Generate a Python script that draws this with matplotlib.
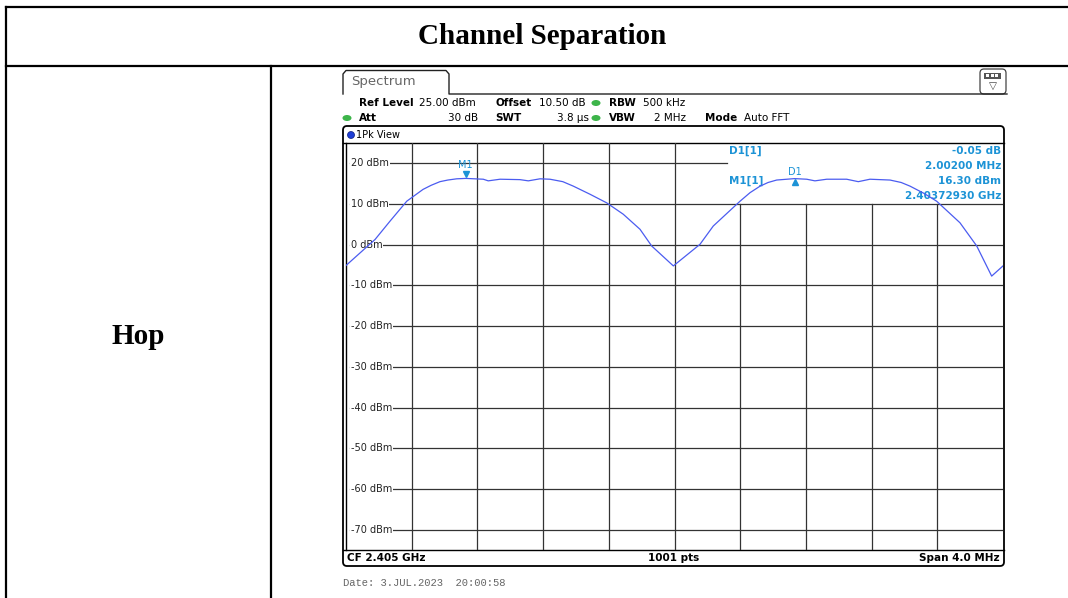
import numpy as np
import matplotlib
matplotlib.use("Agg")
import matplotlib.pyplot as plt
from matplotlib.patches import FancyBboxPatch, Ellipse, Rectangle
from matplotlib.transforms import blended_transform_factory, offset_copy

# spectrum trace (GHz, dBm)
freq_ghz = [2.403000, 2.403177, 2.403268, 2.403370, 2.403469, 2.403518, 2.403572,
            2.403620, 2.403674, 2.403729, 2.403836, 2.403866, 2.403938, 2.404059,
            2.404110, 2.404181, 2.404242, 2.404320, 2.404384, 2.404486, 2.404587,
            2.404688, 2.404790, 2.404861, 2.404993, 2.405155, 2.405236, 2.405399,
            2.405460, 2.405521, 2.405570, 2.405622, 2.405731, 2.405805, 2.405855,
            2.405927, 2.406048, 2.406119, 2.406190, 2.406312, 2.406380, 2.406434,
            2.406520, 2.406596, 2.406738, 2.406840, 2.406931, 2.407000]
level_dbm = [-5.1, 1.3, 5.8, 10.7, 13.6, 14.6, 15.5,
             15.9, 16.2, 16.3, 16.1, 15.7, 16.1, 16.0,
             15.7, 16.2, 16.1, 15.5, 14.4, 12.4, 10.3,
             7.5, 3.8, -0.3, -5.2, 0.1, 4.6, 10.7,
             12.8, 14.4, 15.3, 15.9, 16.25, 16.1, 15.7,
             16.1, 16.1, 15.5, 16.1, 15.9, 15.3, 14.4,
             12.6, 10.7, 5.4, -0.3, -7.7, -5.2]

y_levels = [20, 10, 0, -10, -20, -30, -40, -50, -60, -70]
y_labels = ["20 dBm", "10 dBm", "0 dBm", "-10 dBm", "-20 dBm", "-30 dBm",
            "-40 dBm", "-50 dBm", "-60 dBm", "-70 dBm"]

m1_freq, m1_level = 2.40372930, 16.30
d1_freq, d1_level = 2.40573130, 16.25
marker_names = ["D1[1]", "", "M1[1]", ""]
marker_values = ["-0.05 dB", "2.00200 MHz", "16.30 dBm", "2.40372930 GHz"]

header_row1 = [("Ref Level", True, 359), ("25.00 dBm", False, 419), ("Offset", True, 495),
               ("10.50 dB", False, 539), ("RBW", True, 609), ("500 kHz", False, 643)]
header_row2 = [("Att", True, 359), ("SWT", True, 495), ("VBW", True, 609),
               ("Mode", True, 705), ("Auto FFT", False, 744)]

TRACE = "#4b5cf0"
MARK = "#1c93d6"
GREEN = "#3db54a"
SANS = "DejaVu Sans"
SERIF = "Liberation Serif"

fig = plt.figure(figsize=(10.68, 5.98), dpi=100)

# overlay in pixel coordinates for the table and instrument decorations
bg = fig.add_axes([0, 0, 1, 1], zorder=0)
bg.set_xlim(0, 1068)
bg.set_ylim(598, 0)
bg.axis("off")

# table
lw_tab = 1.6
bg.plot([6, 1068], [6.5, 6.5], color="black", lw=lw_tab)
bg.plot([6, 1068], [66, 66], color="black", lw=lw_tab)
bg.plot([6, 6], [6.5, 598], color="black", lw=lw_tab)
bg.plot([271, 271], [66, 598], color="black", lw=lw_tab)
bg.text(542, 37, "Channel Separation", family=SERIF, weight="bold", fontsize=21,
        ha="center", va="center")
bg.text(138, 337, "Hop", family=SERIF, weight="bold", fontsize=21,
        ha="center", va="center")

# spectrum tab
bg.plot([343, 343, 346, 446, 449, 449, 1007], [94, 74, 70.5, 70.5, 74, 94, 94],
        color="#222222", lw=1.0)
bg.text(351, 82, "Spectrum", family=SANS, fontsize=9.5, color="#666666", va="center")
bg.add_patch(FancyBboxPatch((980, 69), 26, 25, boxstyle="round,pad=0,rounding_size=4",
                            fc="white", ec="#444444", lw=0.9))
bg.add_patch(Rectangle((984, 72.5), 17, 6, fc="#555555", ec="none"))
for xx in [986, 990.5, 995]:
    bg.add_patch(Rectangle((xx, 74), 3, 3, fc="white", ec="none"))
bg.text(993, 86, "\u25bd", family=SANS, fontsize=7.5, color="#444444", ha="center", va="center")

# settings header
for txt, bold, x in header_row1:
    bg.text(x, 103, txt, family=SANS, fontsize=7.5, weight="bold" if bold else "normal",
            va="center")
for txt, bold, x in header_row2:
    bg.text(x, 118, txt, family=SANS, fontsize=7.5, weight="bold" if bold else "normal",
            va="center")
bg.text(478, 118, "30 dB", family=SANS, fontsize=7.5, ha="right", va="center")
bg.text(589, 118, "3.8 \u00b5s", family=SANS, fontsize=7.5, ha="right", va="center")
bg.text(686, 118, "2 MHz", family=SANS, fontsize=7.5, ha="right", va="center")
for x, y in [(596, 103), (347, 118), (596, 118)]:
    bg.add_patch(Ellipse((x, y), 9, 6, fc=GREEN, ec="none"))

# diagram frame
bg.add_patch(FancyBboxPatch((343, 126), 661, 440, boxstyle="round,pad=0,rounding_size=4",
                            fc="none", ec="black", lw=1.3))
bg.plot([343, 1004], [143, 143], color="black", lw=1.0)
bg.plot([343, 1004], [550, 550], color="black", lw=1.0)
bg.add_patch(Ellipse((351, 135), 7, 7, fc="#1f3fd6", ec="#102080", lw=0.5))
bg.text(356, 135, "1Pk View", family=SANS, fontsize=7, va="center")
bg.text(347, 558, "CF 2.405 GHz", family=SANS, fontsize=7.5, weight="bold", va="center")
bg.text(674, 558, "1001 pts", family=SANS, fontsize=7.5, weight="bold", va="center",
        ha="center")
bg.text(1000, 558, "Span 4.0 MHz", family=SANS, fontsize=7.5, weight="bold", va="center",
        ha="right")
bg.text(343, 583, "Date: 3.JUL.2023  20:00:58", family="Liberation Mono", fontsize=7.6,
        color="#666666", va="center")

# marker info block
for i, name in enumerate(marker_names):
    y = 151 + 15 * i
    if name:
        bg.text(729, y, name, family=SANS, fontsize=7.5, weight="bold", color=MARK,
                va="center", zorder=5)
    bg.text(1001, y, marker_values[i], family=SANS, fontsize=7.5, weight="bold", color=MARK,
            va="center", ha="right", zorder=5)

# trace area
ax = fig.add_axes([346 / 1068, 48 / 598, 657 / 1068, 407 / 598], zorder=1)
ax.set_facecolor("none")
f0, f1 = 2.403, 2.407
ax.set_xlim(f0, f1)
ax.set_ylim(-75, 25)
ax.set_xticks([])
ax.set_yticks([])
for side in ["top", "right", "bottom"]:
    ax.spines[side].set_visible(False)
ax.spines["left"].set_linewidth(1.0)

grid_c = "#333333"
for i in range(1, 10):
    x = f0 + i * (f1 - f0) / 10
    ax.axvline(x, ymin=0, ymax=0.85 if i >= 6 else 1, color=grid_c, lw=0.9, zorder=1)
for lvl in y_levels:
    ax.axhline(lvl, xmin=0.006, xmax=0.58 if lvl == 20 else 1, color=grid_c, lw=0.9, zorder=1)

tr = blended_transform_factory(ax.transAxes, ax.transData)
for lvl, lab in zip(y_levels, y_labels):
    ax.text(0.0075, lvl, lab, transform=tr, family=SANS, fontsize=7, color="#222222",
            va="center", ha="left", zorder=2,
            bbox=dict(boxstyle="square,pad=0.08", fc="white", ec="none"))

ax.plot(freq_ghz, level_dbm, color=TRACE, lw=0.9, zorder=3)

# markers
down = offset_copy(ax.transData, fig=fig, y=3.5, units="points")
ax.plot([m1_freq], [m1_level], marker="v", ms=5, color=MARK, transform=down, zorder=4)
ax.annotate("M1", (m1_freq, m1_level), xytext=(0, 10), textcoords="offset points",
            ha="center", va="center", family=SANS, fontsize=7, color=MARK, zorder=4)
up = offset_copy(ax.transData, fig=fig, y=-2.5, units="points")
ax.plot([d1_freq], [d1_level], marker="^", ms=5, color=MARK, transform=up, zorder=4)
ax.annotate("D1", (d1_freq, d1_level), xytext=(0, 5), textcoords="offset points",
            ha="center", va="center", family=SANS, fontsize=7, color=MARK, zorder=4)

fig.savefig("out.png", dpi=100)
